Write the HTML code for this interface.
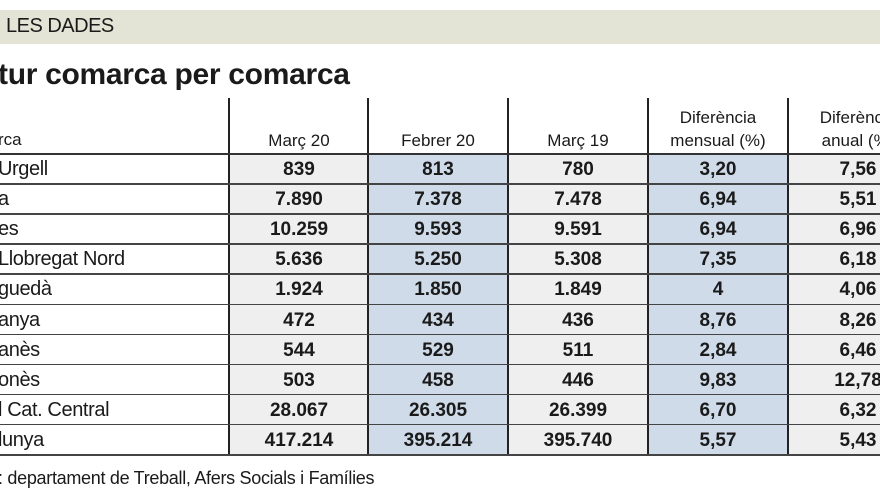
<!DOCTYPE html>
<html><head><meta charset="utf-8"><style>
body{margin:0;width:880px;height:495px;overflow:hidden;background:#fff;position:relative;font-family:"Liberation Sans",sans-serif;color:#1a1a1a}
.a{position:absolute}
.c{position:absolute;text-align:center;white-space:nowrap}
</style></head><body>
<div class="a" style="left:0;top:10px;width:880px;height:34px;background:#e4e4d6"></div>
<div class="a" style="left:6px;top:15px;font-size:20px;letter-spacing:-0.5px">LES DADES</div>
<div class="a" style="left:-2px;top:58px;font-size:30px;font-weight:bold;letter-spacing:-0.3px">tur comarca per comarca</div>
<div id="t"></div>
<div class="a" style="left:-2px;top:468px;font-size:18px;letter-spacing:-0.3px">: departament de Treball, Afers Socials i Famílies</div>
<script>
var rows=[["Urgell","839","813","780","3,20","7,56"],["a","7.890","7.378","7.478","6,94","5,51"],["es","10.259","9.593","9.591","6,94","6,96"],["Llobregat Nord","5.636","5.250","5.308","7,35","6,18"],["guedà","1.924","1.850","1.849","4","4,06"],["anya","472","434","436","8,76","8,26"],["anès","544","529","511","2,84","6,46"],["onès","503","458","446","9,83","12,78"],["l Cat. Central","28.067","26.305","26.399","6,70","6,32"],["lunya","417.214","395.214","395.740","5,57","5,43"]];
var xs=[229,368,508,648,788,928],h='';
var bg=["#efefef","#cfdbe9","#efefef","#cfdbe9","#efefef"];
for(var k=0;k<5;k++)h+='<div class="a" style="left:'+xs[k]+'px;top:154px;width:'+(xs[k+1]-xs[k])+'px;height:301px;background:'+bg[k]+'"></div>';
for(var k=0;k<5;k++)h+='<div class="a" style="left:'+(xs[k]-1)+'px;top:98px;width:2px;height:357px;background:#222"></div>';
h+='<div class="a" style="left:0;top:153px;width:880px;height:2px;background:#333"></div>';
for(var i=0;i<10;i++){var y=154+i*30.1;
h+='<div class="a" style="left:0;top:'+(y+29.1)+'px;width:880px;height:1.5px;background:#444"></div>';
h+='<div class="a" style="left:-2px;top:'+(y+4)+'px;font-size:20px;letter-spacing:-0.4px">'+rows[i][0]+'</div>';
for(var k=0;k<5;k++)h+='<div class="c" style="left:'+xs[k]+'px;width:140px;top:'+(y+5)+'px;font-size:19px;font-weight:bold">'+rows[i][k+1]+'</div>';}
var hd=["Març 20","Febrer 20","Març 19","Diferència<br>mensual (%)","Diferència<br>anual (%)"];
for(var k=0;k<5;k++){var two=k>2;h+='<div class="c" style="left:'+xs[k]+'px;width:140px;top:'+(two?106:129)+'px;font-size:17px;line-height:23px">'+hd[k]+'</div>';}
h+='<div class="a" style="left:-2px;top:130px;font-size:17px">rca</div>';
document.getElementById('t').innerHTML=h;
</script>
</body></html>
